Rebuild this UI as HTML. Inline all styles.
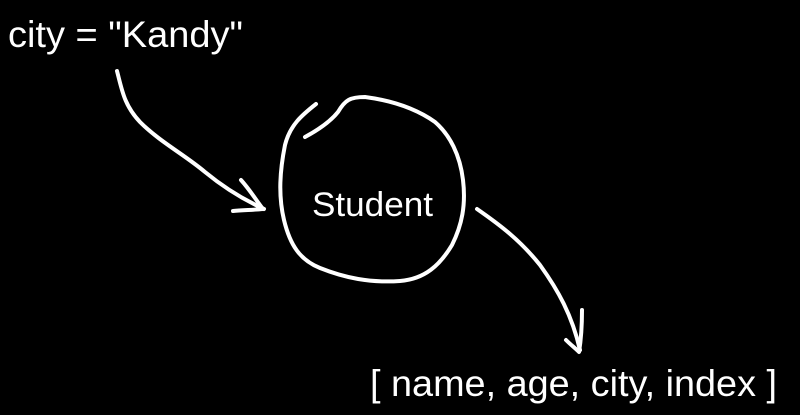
<!DOCTYPE html>
<html><head><style>
html,body{margin:0;padding:0;background:#000;width:800px;height:415px;overflow:hidden}
svg{display:block}
text{font-family:"Liberation Sans",sans-serif;fill:#fff}
</style></head><body>
<svg width="800" height="415" viewBox="0 0 800 415">
<g fill="none" stroke="#fff" stroke-width="4" stroke-linecap="round" stroke-linejoin="round">
<path d="M117 71 C122 90,124 105,140 122 C160 142,185 155,205 172 C222 186,240 198,264 209"/>
<path d="M241 180 C250 190,256 200,263 209 C252 210,242 210,233 211"/>
<path d="M316 104 C302 115,290 125,285 145 C280 170,278 195,284 220 C290 245,300 260,320 268 C345 278,370 283,400 281 C425 279,440 265,452 245 C462 225,466 205,463 180 C460 155,450 135,435 122 C418 110,395 101,365 97 C350 97,345 100,338 112 C330 122,318 130,305 137"/>
<path d="M477 209 C500 225,520 240,540 265 C558 290,572 315,580 350"/>
<path d="M566 340 C571 345,575 348,579 352 C581 340,582 325,582 310"/>
</g>
<text x="8" y="47" font-size="37" textLength="235" lengthAdjust="spacingAndGlyphs">city = "Kandy"</text>
<text x="312" y="216" font-size="34" textLength="121" lengthAdjust="spacingAndGlyphs">Student</text>
<text x="370" y="396" font-size="37" textLength="407" lengthAdjust="spacingAndGlyphs">[ name, age, city, index ]</text>
</svg>
</body></html>
